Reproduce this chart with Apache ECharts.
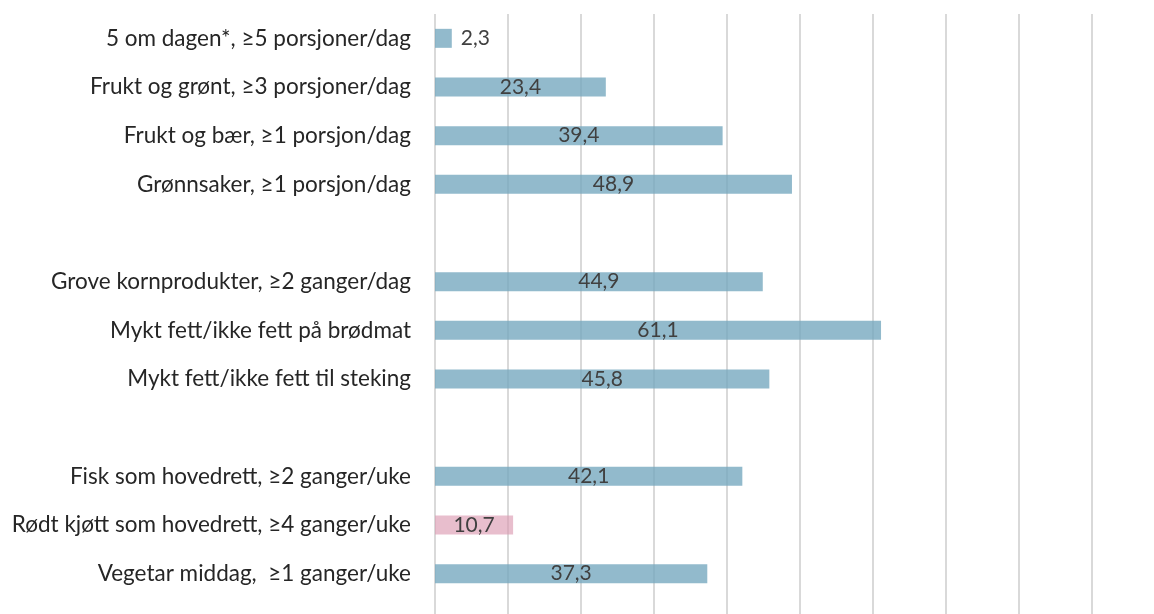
<!DOCTYPE html>
<html>
<head>
<meta charset="utf-8">
<script src="https://cdn.jsdelivr.net/npm/echarts@6/dist/echarts.min.js"></script>
<style>
  html, body { margin: 0; padding: 0; background: #fff; }
  #chart { width: 1154px; height: 614px; }
</style>
</head>
<body>
<div id="chart"></div>
<script>
// Kostholdsindikatorer, andel (%) som oppfyller hvert kriterium
const categories = [
  '5 om dagen*, ≥5 porsjoner/dag',
  'Frukt og grønt, ≥3 porsjoner/dag',
  'Frukt og bær, ≥1 porsjon/dag',
  'Grønnsaker, ≥1 porsjon/dag',
  ' ',
  'Grove kornprodukter, ≥2 ganger/dag',
  'Mykt fett/ikke fett på brødmat',
  'Mykt fett/ikke fett til steking',
  '  ',
  'Fisk som hovedrett, ≥2 ganger/uke',
  'Rødt kjøtt som hovedrett, ≥4 ganger/uke',
  'Vegetar middag,  ≥1 ganger/uke'
];
const values = [2.3, 23.4, 39.4, 48.9, null, 44.9, 61.1, 45.8, null, 42.1, 10.7, 37.3];
// Rødt kjøtt is marked in a different colour
const highlighted = [false, false, false, false, false, false, false, false, false, false, true, false];
// Short bars get their label outside the bar
const labelOutside = [true, false, false, false, false, false, false, false, false, false, false, false];

const xMin = 0, xMax = 90, xStep = 10;
const FONT = 'Lato, Open Sans, sans-serif';

const fmt = v => v.toFixed(1).replace('.', ',');

const barData = values.map((v, i) => v === null ? null : {
  value: v,
  itemStyle: {
    color: highlighted[i] ? 'rgba(218,150,175,0.62)' : 'rgba(115,166,190,0.78)'
  },
  label: labelOutside[i] ? { position: 'right', distance: 9 } : { position: 'inside' }
});

const chart = echarts.init(document.getElementById('chart'), null, { renderer: 'canvas' });
chart.setOption({
  animation: false,
  backgroundColor: '#ffffff',
  grid: [
    { left: 435, right: 62, top: 14, bottom: 16, containLabel: false },
    { left: 435, right: 62, top: 14, bottom: 0, containLabel: false }
  ],
  xAxis: [
    {
      gridIndex: 0, type: 'value', min: xMin, max: xMax, interval: xStep,
      axisLine: { show: false }, axisTick: { show: false }, axisLabel: { show: false },
      splitLine: { show: false }
    },
    {
      gridIndex: 1, type: 'value', min: xMin, max: xMax, interval: xStep,
      axisLine: { show: false }, axisTick: { show: false }, axisLabel: { show: false },
      splitLine: { show: true, lineStyle: { color: '#d9d9d9', width: 2 } }
    }
  ],
  yAxis: [
    {
      gridIndex: 0, type: 'category', data: categories, inverse: true, z: 5,
      axisLine: { show: false }, axisTick: { show: false }, splitLine: { show: false },
      axisLabel: { color: '#262626', fontSize: 22.5, fontFamily: FONT, margin: 24 }
    },
    {
      gridIndex: 1, type: 'category', data: categories, show: false
    }
  ],
  series: [{
    type: 'bar',
    xAxisIndex: 0, yAxisIndex: 0,
    data: barData,
    barWidth: 19,
    z: 3,
    label: {
      show: true,
      color: '#404040',
      fontSize: 21,
      fontFamily: FONT,
      formatter: p => fmt(p.value)
    }
  }]
});
</script>
</body>
</html>
